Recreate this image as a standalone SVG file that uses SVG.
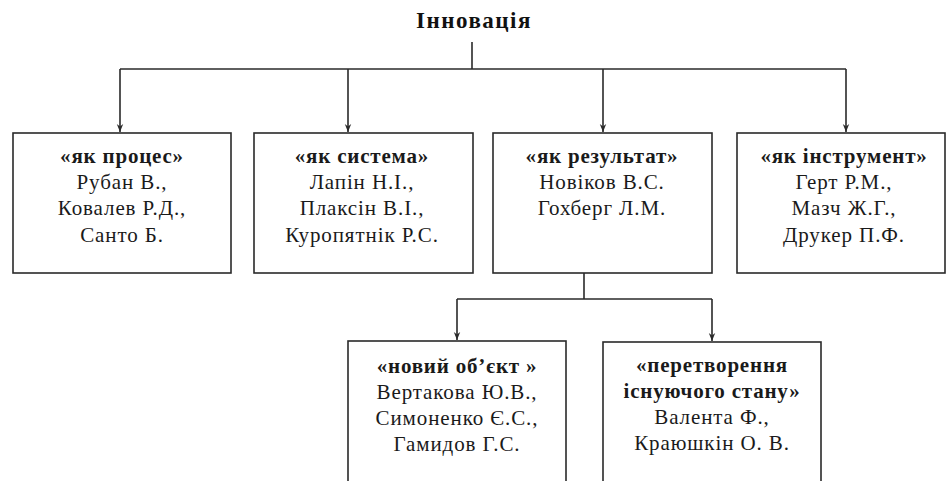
<svg xmlns="http://www.w3.org/2000/svg" width="946" height="481" viewBox="0 0 946 481">
<defs>
<style>
.box{fill:#fff;stroke:#2a2a2a;stroke-width:1.6}
.ln{fill:none;stroke:#2a2a2a;stroke-width:1.6}
.t{font-family:"Liberation Serif","Times New Roman",serif;font-size:21px;fill:#1a1a1a;text-anchor:middle;letter-spacing:0.9px}
.b{font-weight:bold;letter-spacing:0.8px}
.title{font-family:"Liberation Serif","Times New Roman",serif;font-size:23px;font-weight:bold;fill:#111;text-anchor:middle;letter-spacing:1.5px}
</style>
<marker id="arr" viewBox="0 0 10 10" refX="10" refY="5" markerWidth="8" markerHeight="8" markerUnits="userSpaceOnUse" orient="auto">
<path d="M0,1 L10,5 L0,9 L3,5 Z" fill="#2a2a2a"/>
</marker>
</defs>
<rect width="946" height="481" fill="#fff"/>
<text class="title" x="474" y="28">Інновація</text>
<g id="connectors">
<path class="ln" d="M472,42 V69"/>
<path class="ln" d="M120,69 H846"/>
<path class="ln" d="M120,69 V132" marker-end="url(#arr)"/>
<path class="ln" d="M348,69 V132" marker-end="url(#arr)"/>
<path class="ln" d="M603,69 V132" marker-end="url(#arr)"/>
<path class="ln" d="M846,69 V132" marker-end="url(#arr)"/>
<path class="ln" d="M584,273 V299"/>
<path class="ln" d="M457,299 H712"/>
<path class="ln" d="M457,299 V340" marker-end="url(#arr)"/>
<path class="ln" d="M712,299 V341" marker-end="url(#arr)"/>
</g>
<g id="n1">
<rect class="box" x="13" y="133" width="218" height="140"/>
<text class="t b" x="122" y="163">«як процес»</text>
<text class="t" x="122" y="189">Рубан В.,</text>
<text class="t" x="122" y="215">Ковалев Р.Д.,</text>
<text class="t" x="122" y="242">Санто Б.</text>
</g>
<g id="n2">
<rect class="box" x="254" y="133" width="219" height="140"/>
<text class="t b" x="362" y="163">«як система»</text>
<text class="t" x="362" y="189">Лапін Н.І.,</text>
<text class="t" x="362" y="215">Плаксін В.І.,</text>
<text class="t" x="362" y="242">Куропятнік Р.С.</text>
</g>
<g id="n3">
<rect class="box" x="493" y="133" width="219" height="140"/>
<text class="t b" x="602" y="163">«як результат»</text>
<text class="t" x="602" y="189">Новіков В.С.</text>
<text class="t" x="602" y="215">Гохберг Л.М.</text>
</g>
<g id="n4">
<rect class="box" x="737" y="133" width="208" height="140"/>
<text class="t b" x="844" y="163">«як інструмент»</text>
<text class="t" x="844" y="189">Герт Р.М.,</text>
<text class="t" x="844" y="215">Мазч Ж.Г.,</text>
<text class="t" x="844" y="242">Друкер П.Ф.</text>
</g>
<g id="n5">
<rect class="box" x="348" y="341" width="218" height="150"/>
<text class="t b" x="457" y="373">«новий об’єкт »</text>
<text class="t" x="457" y="399">Вертакова Ю.В.,</text>
<text class="t" x="457" y="425">Симоненко Є.С.,</text>
<text class="t" x="457" y="451">Гамидов Г.С.</text>
</g>
<g id="n6">
<rect class="box" x="603" y="342" width="218" height="150"/>
<text class="t b" x="712" y="372">«перетворення</text>
<text class="t b" x="712" y="398">існуючого стану»</text>
<text class="t" x="712" y="424">Валента Ф.,</text>
<text class="t" x="712" y="450">Краюшкін О. В.</text>
</g>
</svg>
